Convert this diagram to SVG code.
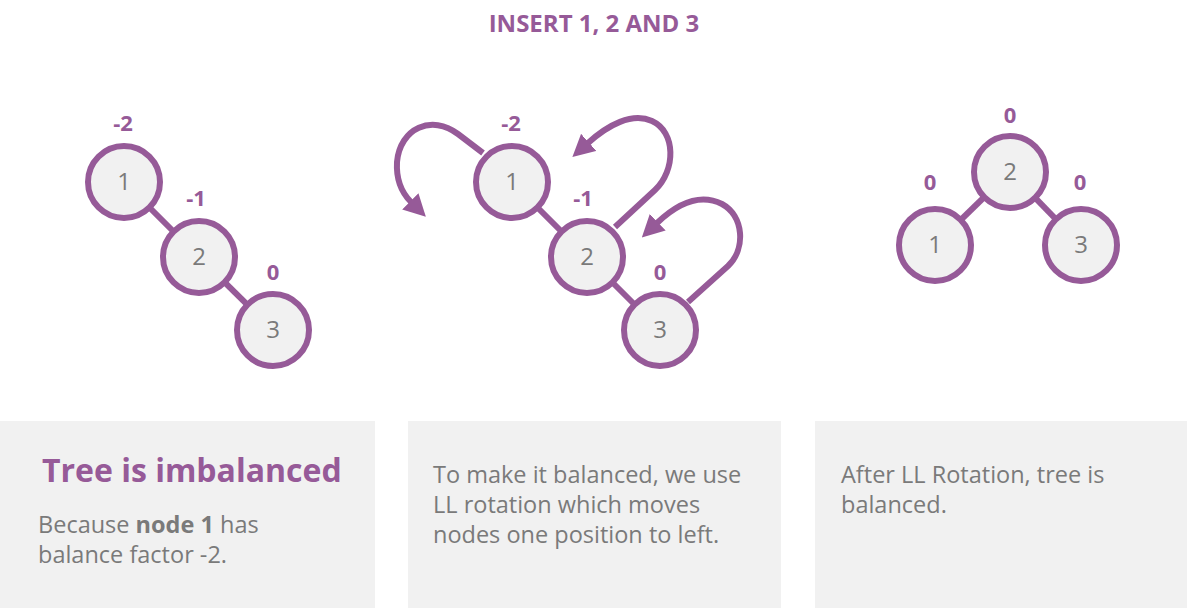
<svg xmlns="http://www.w3.org/2000/svg" width="1187" height="608" viewBox="0 0 1187 608">
<style>
.node circle{fill:#f1f1f1;stroke:#965a98;stroke-width:6}
.node text{font-family:"Open Sans","Liberation Sans",sans-serif;font-size:24px;fill:#7a7a7a;text-anchor:middle}
.bf{font-family:"Open Sans","Liberation Sans",sans-serif;font-size:22px;font-weight:bold;fill:#965a98;text-anchor:middle}
.edge{stroke:#965a98;stroke-width:6;fill:none}
.arr{stroke:#965a98;stroke-width:6;fill:none;marker-end:url(#ah)}
.panel{fill:#f1f1f1}
.body{font-family:"Open Sans","Liberation Sans",sans-serif;font-size:23.5px;fill:#7a7a7a}
.title{font-family:"Open Sans","Liberation Sans",sans-serif;font-weight:bold;fill:#965a98}
</style>
<defs>
<marker id="ah" viewBox="0 0 22 23" refX="1" refY="11.5" markerWidth="22" markerHeight="23" markerUnits="userSpaceOnUse" orient="auto">
<path d="M0 0 L22 11.5 L0 23 Z" fill="#965a98"/>
</marker>
</defs>
<rect width="1187" height="608" fill="#ffffff"/>
<text class="title" x="594" y="32" font-size="24" text-anchor="middle">INSERT 1, 2 AND 3</text>

<g id="connectors">
<line class="edge" x1="124" y1="182" x2="199" y2="257"/>
<line class="edge" x1="199" y1="257" x2="273" y2="330"/>
<line class="edge" x1="512" y1="182" x2="587" y2="257"/>
<line class="edge" x1="587" y1="257" x2="660" y2="330"/>
<line class="edge" x1="1010" y1="172" x2="935" y2="245"/>
<line class="edge" x1="1010" y1="172" x2="1081" y2="245"/>
<path class="arr" d="M483 153 L458 134 C432 114 400 128 397 162 C396 180 402 193 411 202"/>
<path class="arr" d="M615 227 L655 190 C676 170 676 132 652 121 C632 112 608 125 588 143"/>
<path class="arr" d="M688 302 L728 266 C746 249 744 216 722 204 C702 194 680 201 657 223"/>
</g>

<g id="left-n1" class="node"><circle cx="124" cy="182" r="36"/><text x="124" y="190">1</text></g>
<g id="left-n2" class="node"><circle cx="199" cy="257" r="36"/><text x="199" y="265">2</text></g>
<g id="left-n3" class="node"><circle cx="273" cy="330" r="36"/><text x="273" y="338">3</text></g>
<text class="bf" x="123" y="131">-2</text>
<text class="bf" x="196" y="206">-1</text>
<text class="bf" x="273" y="280">0</text>

<g id="mid-n1" class="node"><circle cx="512" cy="182" r="36"/><text x="512" y="190">1</text></g>
<g id="mid-n2" class="node"><circle cx="587" cy="257" r="36"/><text x="587" y="265">2</text></g>
<g id="mid-n3" class="node"><circle cx="660" cy="330" r="36"/><text x="660" y="338">3</text></g>
<text class="bf" x="511" y="131">-2</text>
<text class="bf" x="583" y="206">-1</text>
<text class="bf" x="660" y="280">0</text>

<g id="right-n2" class="node"><circle cx="1010" cy="172" r="36"/><text x="1010" y="180">2</text></g>
<g id="right-n1" class="node"><circle cx="935" cy="245" r="36"/><text x="935" y="253">1</text></g>
<g id="right-n3" class="node"><circle cx="1081" cy="245" r="36"/><text x="1081" y="253">3</text></g>
<text class="bf" x="1010" y="123">0</text>
<text class="bf" x="930" y="190">0</text>
<text class="bf" x="1080" y="190">0</text>

<g id="panel1">
<rect class="panel" x="0" y="421" width="375" height="187"/>
<text class="title" x="42" y="482" font-size="32">Tree is imbalanced</text>
<text class="body" x="38" y="533">Because <tspan font-weight="bold">node 1</tspan> has</text>
<text class="body" x="38" y="563">balance factor -2.</text>
</g>
<g id="panel2">
<rect class="panel" x="408" y="421" width="373" height="187"/>
<text class="body" x="433" y="483">To make it balanced, we use</text>
<text class="body" x="433" y="513">LL rotation which moves</text>
<text class="body" x="433" y="543">nodes one position to left.</text>
</g>
<g id="panel3">
<rect class="panel" x="815" y="421" width="372" height="187"/>
<text class="body" x="841" y="483">After LL Rotation, tree is</text>
<text class="body" x="841" y="513">balanced.</text>
</g>
</svg>
